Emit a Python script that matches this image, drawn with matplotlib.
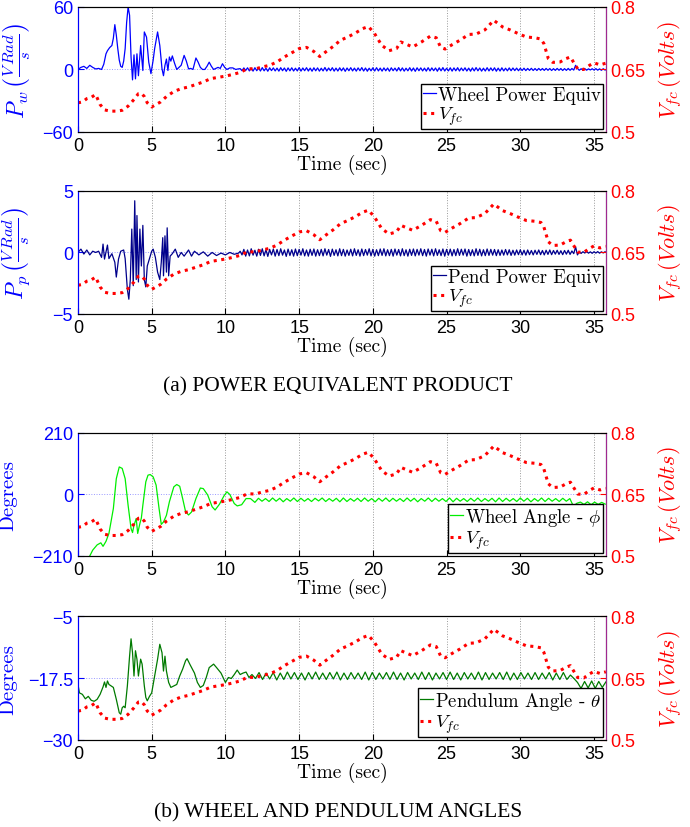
import numpy as np
import matplotlib
matplotlib.use('Agg')
import matplotlib.pyplot as plt

plt.rcParams['mathtext.fontset'] = 'cm'
plt.rcParams['font.family'] = 'Liberation Sans'
plt.rcParams['axes.unicode_minus'] = True

# fuel-cell voltage (same trace on every panel)
vfc_t = [0, 0.3, 0.6, 0.9, 1.2, 1.5, 1.8, 2.2, 2.6, 3.0, 3.4, 3.8, 4.1, 4.3, 4.5, 4.7,
         5.0, 5.3, 5.6, 6.0, 6.5, 7.0, 7.5, 8.0, 8.5, 9.0, 9.5, 10.0, 10.5, 11.0, 11.5,
         12.0, 12.5, 13.0, 13.5, 14.0, 14.5, 15.0, 15.5, 16.0, 16.4, 16.8, 17.3, 17.8,
         18.3, 18.8, 19.3, 19.7, 20.1, 20.6, 21.1, 21.6, 21.9, 22.3, 22.7, 23.3, 23.9,
         24.3, 24.6, 24.9, 25.4, 25.9, 26.5, 27.0, 27.6, 28.2, 28.8, 29.3, 29.8, 30.4,
         31.0, 31.4, 31.6, 31.9, 32.2, 32.7, 33.1, 33.4, 33.6, 33.9, 34.3, 34.7, 35.0,
         35.4, 35.8]
vfc_v = [0.570, 0.572, 0.580, 0.583, 0.590, 0.566, 0.553, 0.550, 0.550, 0.552, 0.562,
         0.578, 0.592, 0.593, 0.585, 0.570, 0.560, 0.566, 0.572, 0.585, 0.597, 0.604,
         0.608, 0.614, 0.620, 0.628, 0.631, 0.634, 0.638, 0.643, 0.652, 0.651, 0.656,
         0.660, 0.668, 0.680, 0.690, 0.700, 0.703, 0.693, 0.681, 0.692, 0.705, 0.720,
         0.728, 0.737, 0.748, 0.753, 0.737, 0.708, 0.695, 0.700, 0.716, 0.710, 0.704,
         0.716, 0.730, 0.726, 0.703, 0.699, 0.710, 0.720, 0.734, 0.735, 0.745, 0.768,
         0.752, 0.745, 0.737, 0.728, 0.726, 0.723, 0.712, 0.676, 0.667, 0.668, 0.676,
         0.680, 0.668, 0.651, 0.650, 0.660, 0.666, 0.661, 0.665]

# wheel power equivalent: transient (t, value) then steady ripple every 0.125 s from 11 s
wheel_pow_head = [(0, 0), (0.2, 2), (0.4, 3), (0.6, 1), (0.8, 4), (1.0, 2), (1.2, 0.5),
                  (1.4, 1), (1.6, 0), (1.75, 5), (1.9, 15), (2.0, 18), (2.15, 21), (2.3, 23),
                  (2.4, 30), (2.5, 43), (2.6, 33), (2.7, 20), (2.8, 9), (2.9, 3), (3.0, 2),
                  (3.1, 8), (3.2, 20), (3.3, 45), (3.4, 60), (3.5, 52), (3.6, 12), (3.7, -10),
                  (3.8, 14), (3.9, -9), (4.0, 15), (4.1, -6), (4.25, 23), (4.4, -1), (4.5, 36),
                  (4.65, 31), (4.8, 7), (4.95, -4), (5.1, 9), (5.2, 20), (5.3, 28), (5.4, 36),
                  (5.55, 23), (5.7, 0.6), (5.8, -6), (5.9, 4), (6.0, 10), (6.1, -1), (6.2, 12),
                  (6.3, 8), (6.4, 13), (6.55, 6), (6.7, 0), (6.85, 2), (7.0, 4), (7.2, 13.5),
                  (7.35, 8), (7.5, 0.6), (7.65, 1), (7.8, 0), (8.0, 11), (8.15, 7), (8.3, 2),
                  (8.45, 0), (8.6, 0), (8.75, 3), (8.9, 7), (9.05, 3), (9.2, 0), (9.35, 1),
                  (9.5, 2), (9.65, 1), (9.8, 5.5), (9.95, 2), (10.1, 0), (10.3, 1.5),
                  (10.5, 1.5), (10.7, 0), (10.85, 0.5)]
wheel_pow_tail = [
    0.8, -1.2, 1.5, -1.0, 1.6, -1.4, 1.3, -1.6, 1.7, -1.2, 1.4, -1.5, 1.8, -1.3, 1.2, -1.7, 1.6, -1.1, 1.5, -1.4,
    1.3, -1.6, 1.7, -1.2, 1.4, -1.8, 1.5, -1.3, 1.6, -1.5, 1.2, -1.4, 1.8, -1.6, 1.4, -1.2, 1.7, -1.5, 1.3, -1.7,
    1.6, -1.3, 1.5, -1.6, 1.2, -1.4, 1.9, -1.5, 1.4, -1.2, 1.7, -1.6, 1.3, -1.5, 1.6, -1.3, 1.5, -1.8, 1.4, -1.2,
    1.7, -1.4, 1.3, -1.6, 1.5, -1.2, 1.8, -1.5, 1.4, -1.7, 1.2, -1.3, 1.6, -1.5, 1.7, -1.4, 1.3, -1.6, 1.5, -1.3,
    1.4, -1.7, 1.6, -1.2, 1.3, -1.5, 1.8, -1.4, 1.5, -1.6, 1.2, -1.3, 1.7, -1.5, 1.4, -1.8, 1.6, -1.2, 1.5, -1.4,
    1.3, -1.6, 1.7, -1.4, 1.5, -1.2, 1.4, -1.7, 1.6, -1.3, 1.8, -1.5, 1.2, -1.4, 1.6, -1.6, 1.5, -1.3, 1.7, -1.5,
    1.4, -1.2, 1.6, -1.5, 1.3, -1.7, 1.5, -1.4, 1.8, -1.3, 1.4, -1.6, 1.2, -1.5, 1.7, -1.4, 1.5, -1.2, 1.6, -1.7,
    1.3, -1.5, 1.6, -1.4, 1.2, -1.3, 1.5, -1.2, 1.4, -1.1, 1.3, -1.2, 1.1, -1.0, 1.2, -1.1, 1.0, -0.9, 1.1, -1.0,
    0.9, -1.0, 1.0, -0.8, 0.9, -0.9, 1.0, -0.8, 0.9, -1.0, 0.8, -0.9, 1.0, -0.8, 0.9, -1.0, 0.8, -0.9, 1.0, -0.8,
    0.9, -0.6, 4.0, 1.0, -0.8, 0.7, -0.6, 0.8, -0.7, 0.6, -0.5, 0.7, -0.6, 0.8, -0.7, 0.6, -0.8, 0.7, -0.6]

# pendulum power equivalent
pend_pow_head = [(0, 0), (0.2, 0.27), (0.4, -0.13), (0.6, 0.2), (0.8, -0.2), (1.0, 0.1), (1.2, 0),
                 (1.4, 0.1), (1.6, -0.4), (1.7, 0.68), (1.8, -0.54), (2.0, 0.6), (2.1, -0.5),
                 (2.3, -0.1), (2.5, -0.8), (2.6, -2.0), (2.75, -0.54), (2.9, 0.1), (3.1, 0.2),
                 (3.2, -0.5), (3.35, -3.0), (3.45, -3.8), (3.55, -2.2), (3.65, 1.9), (3.75, -2.7),
                 (3.85, 4.2), (3.95, -2.2), (4.0, 3.0), (4.1, -2.4), (4.2, 1.9), (4.3, -1.1),
                 (4.4, 2.2), (4.5, -2.2), (4.6, -2.8), (4.7, -1.1), (4.85, -0.5), (5.0, 0.1),
                 (5.1, 0.27), (5.25, -0.4), (5.4, -1.6), (5.55, -2.2), (5.65, -0.8), (5.75, 1.2),
                 (5.8, -1.9), (5.9, 1.35), (6.0, -1.6), (6.05, 2.0), (6.15, -1.9), (6.25, -0.3),
                 (6.4, -0.1), (6.6, 0.27), (6.8, -0.4), (7.0, 0), (7.2, -0.3), (7.5, 0.2),
                 (7.7, -0.3), (7.9, 0.1), (8.2, -0.2), (8.5, 0.05), (8.8, -0.3), (9.1, 0),
                 (9.4, -0.25), (9.7, -0.05), (10.0, -0.2), (10.3, 0), (10.6, -0.15), (10.9, -0.05)]
pend_pow_tail = [
    0.10, -0.20, 0.25, -0.30, 0.20, -0.28, 0.30, -0.22, 0.18, -0.30, 0.26, -0.24, 0.30, -0.28, 0.22, -0.32, 0.25, -0.20, 0.28, -0.30,
    0.24, -0.26, 0.30, -0.22, 0.20, -0.32, 0.27, -0.25, 0.22, -0.30, 0.28, -0.26, 0.25, -0.22, 0.30, -0.28, 0.20, -0.30, 0.26, -0.24,
    0.28, -0.30, 0.22, -0.26, 0.25, -0.28, 0.30, -0.22, 0.24, -0.32, 0.27, -0.24, 0.22, -0.28, 0.30, -0.26, 0.25, -0.30, 0.20, -0.24,
    0.26, -0.28, 0.30, -0.24, 0.22, -0.30, 0.28, -0.26, 0.24, -0.22, 0.30, -0.28, 0.25, -0.30, 0.22, -0.26, 0.28, -0.24, 0.30, -0.28,
    0.22, -0.26, 0.25, -0.30, 0.28, -0.22, 0.24, -0.28, 0.30, -0.26, 0.22, -0.30, 0.26, -0.24, 0.28, -0.28, 0.25, -0.22, 0.30, -0.26,
    0.24, -0.30, 0.28, -0.22, 0.26, -0.28, 0.30, -0.24, 0.22, -0.26, 0.28, -0.30, 0.25, -0.22, 0.27, -0.28, 0.24, -0.26, 0.30, -0.24,
    0.26, -0.22, 0.28, -0.30, 0.24, -0.26, 0.22, -0.28, 0.30, -0.24, 0.26, -0.28, 0.22, -0.26, 0.28, -0.24, 0.25, -0.22, 0.24, -0.26,
    0.22, -0.24, 0.20, -0.22, 0.24, -0.20, 0.22, -0.24, 0.18, -0.22, 0.20, -0.18, 0.22, -0.20, 0.18, -0.22, 0.20, -0.18, 0.16, -0.20,
    0.18, -0.16, 0.20, -0.18, 0.16, -0.20, 0.18, -0.16, 0.20, -0.18, 0.16, -0.14, 0.18, -0.16, 0.14, -0.18, 0.16, -0.14, 0.18, -0.16,
    0.12, -0.10, 0.45, -0.20, 0.05, -0.08, 0.06, -0.05, 0.08, -0.06, 0.05, -0.07, 0.06, -0.05, 0.07, -0.06, 0.05, -0.04, 0.06]

# wheel angle phi (deg): transient then ripple every 0.24 s from 12.24 s
wheel_ang_head = [(0, -265), (0.4, -240), (0.8, -210), (1.0, -190), (1.3, -172), (1.55, -165),
                  (1.7, -177), (1.9, -160), (2.1, -133), (2.4, -48), (2.6, 54), (2.8, 94),
                  (3.0, 89), (3.2, 54), (3.4, -37), (3.6, -116), (3.7, -130), (3.8, -105),
                  (3.95, -82), (4.05, -133), (4.2, -99), (4.3, -80), (4.4, -37), (4.6, 43),
                  (4.75, 66), (4.9, 68), (5.1, 60), (5.3, 32), (5.5, -48), (5.65, -102),
                  (5.8, -94), (6.0, -71), (6.2, -25), (6.5, 26), (6.7, 34), (6.9, 28),
                  (7.1, -14), (7.3, -59), (7.5, -70), (7.7, -60), (8.0, -14), (8.3, 22),
                  (8.5, 20), (8.8, -2), (9.1, -42), (9.3, -53), (9.6, -33), (9.9, -5),
                  (10.1, 9), (10.3, 0), (10.6, -31), (10.8, -39), (11.1, -35), (11.4, -14),
                  (11.7, -14), (12.0, -27)]
wheel_ang_tail = [
    -13, -23, -14, -24, -12, -23, -13, -25, -14, -23, -12, -24, -13, -23, -14, -24, -13, -22, -12, -24,
    -14, -23, -13, -25, -12, -24, -14, -23, -13, -24, -12, -23, -14, -25, -13, -23, -12, -24, -13, -23,
    -14, -24, -12, -23, -13, -25, -14, -23, -12, -24, -13, -23, -14, -24, -12, -25, -13, -23, -14, -24,
    -13, -23, -12, -24, -14, -23, -13, -25, -12, -24, -13, -23, -14, -24, -12, -23, -13, -25, -14, -23,
    -12, -24, -13, -23, -14, -24, -13, -23, -14, -40, -30, -26, -34, -25, -35, -26, -34, -27, -33]

# pendulum angle theta (deg): transient then ripple every 0.24 s from 11.8 s
pend_ang_head = [(0, -18.8), (0.1, -20.5), (0.3, -20.8), (0.5, -21.7), (0.7, -21.2), (0.9, -22.0),
                 (1.1, -22.2), (1.3, -21.8), (1.5, -20.8), (1.7, -19.3), (1.8, -18.3), (1.9, -19.4),
                 (2.0, -18.1), (2.1, -18.8), (2.4, -19.4), (2.6, -21.8), (2.8, -24.5), (2.9, -24.8),
                 (3.0, -23.5), (3.1, -23.2), (3.2, -23.5), (3.35, -19.1), (3.5, -13.1), (3.6, -9.6),
                 (3.7, -12.4), (3.8, -17.1), (3.9, -12.0), (4.0, -13.7), (4.1, -17.1), (4.25, -13.7),
                 (4.35, -14.7), (4.5, -19.1), (4.6, -21.4), (4.7, -22.1), (4.85, -21.2), (5.0, -20.5),
                 (5.2, -17.1), (5.4, -13.7), (5.55, -10.7), (5.7, -12.4), (5.8, -16.1), (5.9, -13.1),
                 (6.0, -16.1), (6.15, -18.4), (6.3, -19.4), (6.5, -19.1), (6.7, -18.8), (6.9, -17.1),
                 (7.1, -15.7), (7.3, -14.0), (7.4, -13.6), (7.6, -14.8), (7.9, -16.5), (8.1, -18.4),
                 (8.3, -19.4), (8.5, -19.0), (8.7, -17.4), (8.9, -15.4), (9.2, -14.7), (9.4, -15.4),
                 (9.7, -16.5), (10.0, -18.4), (10.2, -17.4), (10.4, -17.6), (10.6, -16.8), (10.8, -15.9),
                 (11.0, -16.8), (11.2, -16.5), (11.4, -16.3), (11.6, -17.4)]
pend_ang_tail = [
    -16.8, -17.6, -16.4, -17.8, -16.5, -17.7, -16.4, -17.9, -16.5, -17.8, -16.3, -17.7, -16.4, -17.8, -16.5, -17.9, -16.4, -17.7, -16.3, -17.8,
    -16.5, -17.8, -16.4, -17.7, -16.3, -17.9, -16.5, -17.8, -16.4, -17.7, -16.5, -17.8, -16.3, -17.9, -16.4, -17.8, -16.5, -17.7, -16.4, -17.8,
    -16.3, -17.8, -16.5, -17.9, -16.4, -17.7, -16.5, -17.8, -16.3, -17.8, -16.4, -17.9, -16.5, -17.7, -16.4, -17.8, -16.3, -17.8, -16.5, -17.9,
    -16.4, -17.7, -16.5, -17.8, -16.3, -17.9, -16.4, -17.8, -16.5, -17.7, -16.4, -17.8, -16.3, -17.9, -16.5, -17.8, -16.4, -17.7, -16.5, -17.8,
    -16.4, -17.8, -16.5, -17.7, -16.4, -17.9, -16.5, -17.8, -16.4, -17.8, -16.9, -17.6, -18.4, -19.6, -18.2, -19.5, -18.1, -19.6, -18.2, -19.4,
    -18.3]


def build(head, tail, t0, dt):
    th, vh = np.array(head).T
    tt = t0 + dt * np.arange(len(tail))
    return np.concatenate([th, tt]), np.concatenate([vh, tail])


def panel(rect, t, y, color, ylim, yticks, yticklabels, ylabel, label, lab_x, lab_size):
    ax = fig.add_axes(rect)
    l1, = ax.plot(t, y, color=color, lw=0.9)
    ax.set_xlim(0, 35.8)
    ax.set_ylim(*ylim)
    ax.set_xticks([0, 5, 10, 15, 20, 25, 30, 35])
    ax.set_yticks(yticks)
    ax.set_yticklabels(yticklabels)
    ax.tick_params(direction='in', length=4, labelsize=13)
    ax.tick_params(axis='y', colors='blue', labelcolor='blue')
    ax.xaxis.grid(True, ls=':', color='#999999', lw=0.7)
    ax.axhline(yticks[1], ls=':', color='#9999ff', lw=0.7, zorder=0)
    ax.set_xlabel('Time (sec)', family='cmr10', fontsize=14, labelpad=0)
    ax.set_ylabel(ylabel, color='blue', fontsize=lab_size)
    ax.yaxis.set_label_coords(lab_x, 0.5)

    ax2 = ax.twinx()
    l2, = ax2.plot(vfc_t, vfc_v, color='red', ls=(0, (1, 1.5)), lw=2.2)
    ax2.set_ylim(0.5, 0.8)
    ax2.set_yticks([0.5, 0.65, 0.8])
    ax2.set_yticklabels(['0.5', '0.65', '0.8'])
    ax2.tick_params(direction='in', length=4, labelsize=13, colors='red', labelcolor='red')
    ax2.set_ylabel(r'$V_{fc}\,(Volts)$', color='red', fontsize=16)
    ax2.yaxis.set_label_coords(1.095, 0.5)
    for a in (ax, ax2):
        a.spines['left'].set_color('blue')
        a.spines['top'].set_color('black')
        a.spines['bottom'].set_color('black')
    ax2.spines['right'].set_color('#a02890')

    leg = ax2.legend([l1, l2], [label, r'$V_{fc}$'], loc='lower right',
                     prop={'family': 'cmr10', 'size': 13.5}, fancybox=False,
                     edgecolor='black', framealpha=1, handlelength=0.7,
                     handletextpad=0.1, borderpad=0.1, labelspacing=0.05,
                     borderaxespad=0.15)
    leg.get_frame().set_linewidth(1.0)
    return ax, ax2


fig = plt.figure(figsize=(6.9, 8.28), dpi=100)

t1, y1 = build(wheel_pow_head, wheel_pow_tail, 11.0, 0.125)
t2, y2 = build(pend_pow_head, pend_pow_tail, 11.0, 0.125)
t3, y3 = build(wheel_ang_head, wheel_ang_tail, 12.24, 0.24)
t4, y4 = build(pend_ang_head, pend_ang_tail, 11.8, 0.24)

pw_lab = r'$P_w\,\left(\frac{V\,Rad}{s}\right)$'
pp_lab = r'$P_p\,\left(\frac{V\,Rad}{s}\right)$'
panel([0.113, 0.8394, 0.765, 0.151], t1, y1, '#0000ff', (-60, 60), [-60, 0, 60],
      ['\u221260', '0', '60'], pw_lab, 'Wheel Power Equiv', -0.085, 17)
panel([0.113, 0.6196, 0.765, 0.1486], t2, y2, '#00008b', (-5, 5), [-5, 0, 5],
      ['\u22125', '0', '5'], pp_lab, 'Pend Power Equiv', -0.085, 17)
ax3, _ = panel([0.113, 0.3273, 0.765, 0.1486], t3, y3, '#00ee00', (-210, 210), [-210, 0, 210],
               ['\u2212210', '0', '210'], 'Degrees', r'Wheel Angle - $\phi$', -0.115, 15)
ax4, _ = panel([0.113, 0.1051, 0.765, 0.1497], t4, y4, '#007a00', (-30, -5), [-30, -17.5, -5],
               ['\u221230', '\u221217.5', '\u22125'], 'Degrees', r'Pendulum Angle - $\theta$', -0.115, 15)
for a in (ax3, ax4):
    a.yaxis.label.set_family('cmr10')

fig.text(0.49, 1 - 387 / 828, '(a) POWER EQUIVALENT PRODUCT', ha='center', va='center',
         family='Liberation Serif', fontsize=15.5)
fig.text(0.49, 1 - 813 / 828, '(b) WHEEL AND PENDULUM ANGLES', ha='center', va='center',
         family='Liberation Serif', fontsize=15.5)

fig.savefig('out.png', dpi=100)
plt.close(fig)
